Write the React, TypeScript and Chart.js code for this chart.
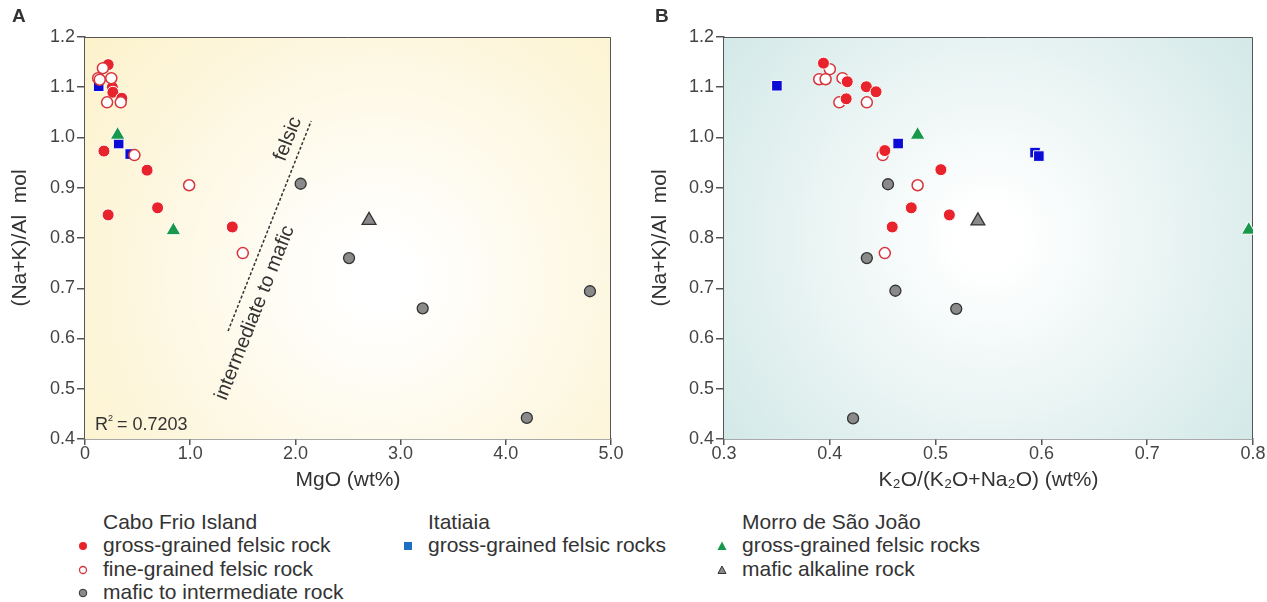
import React, { useEffect, useRef } from "react";
import { Chart, registerables } from "chart.js";
Chart.register(...registerables);

type P = { x: number; y: number };

// ---------- Panel A : MgO vs (Na+K)/Al ----------
const aRedFilled: P[] = [
  { x: 0.22, y: 1.145 }, { x: 0.26, y: 1.1 }, { x: 0.265, y: 1.09 }, { x: 0.35, y: 1.078 },
  { x: 0.18, y: 0.973 }, { x: 0.22, y: 0.846 }, { x: 0.59, y: 0.935 }, { x: 0.69, y: 0.86 },
  { x: 1.4, y: 0.822 },
];
const aRedOpen: P[] = [
  { x: 0.125, y: 1.118 }, { x: 0.14, y: 1.115 }, { x: 0.17, y: 1.138 }, { x: 0.25, y: 1.118 },
  { x: 0.21, y: 1.07 }, { x: 0.34, y: 1.07 }, { x: 0.47, y: 0.965 }, { x: 0.99, y: 0.905 },
  { x: 1.5, y: 0.77 },
];
const aGrey: P[] = [
  { x: 2.05, y: 0.908 }, { x: 2.51, y: 0.76 }, { x: 3.21, y: 0.66 }, { x: 4.2, y: 0.442 },
  { x: 4.8, y: 0.694 },
];
const aBlue: P[] = [{ x: 0.13, y: 1.102 }, { x: 0.32, y: 0.988 }, { x: 0.43, y: 0.967 }];
const aGreen: P[] = [{ x: 0.31, y: 1.005 }, { x: 0.84, y: 0.815 }];
const aGreyTri: P[] = [{ x: 2.7, y: 0.835 }];
const aDivider: P[] = [{ x: 1.36, y: 0.615 }, { x: 2.15, y: 1.033 }];
const aLabelFelsic: P = { x: 1.93, y: 0.997 };
const aLabelMafic: P = { x: 1.616, y: 0.651 };
const aXTicks = [0, 1, 2, 3, 4, 5];

// ---------- Panel B : K2O/(K2O+Na2O) vs (Na+K)/Al ----------
const bRedFilled: P[] = [
  { x: 0.394, y: 1.148 }, { x: 0.4165, y: 1.111 }, { x: 0.4155, y: 1.077 }, { x: 0.4345, y: 1.101 },
  { x: 0.4437, y: 1.091 }, { x: 0.452, y: 0.974 }, { x: 0.505, y: 0.936 }, { x: 0.477, y: 0.86 },
  { x: 0.513, y: 0.846 }, { x: 0.459, y: 0.822 },
];
const bRedOpen: P[] = [
  { x: 0.4, y: 1.136 }, { x: 0.39, y: 1.116 }, { x: 0.396, y: 1.116 }, { x: 0.412, y: 1.118 },
  { x: 0.409, y: 1.07 }, { x: 0.435, y: 1.07 }, { x: 0.45, y: 0.965 }, { x: 0.483, y: 0.905 },
  { x: 0.452, y: 0.77 },
];
const bGrey: P[] = [
  { x: 0.455, y: 0.907 }, { x: 0.435, y: 0.76 }, { x: 0.462, y: 0.695 }, { x: 0.5195, y: 0.659 },
  { x: 0.422, y: 0.441 },
];
const bBlue: P[] = [
  { x: 0.35, y: 1.103 }, { x: 0.4646, y: 0.988 }, { x: 0.594, y: 0.97 }, { x: 0.5976, y: 0.963 },
];
const bGreen: P[] = [{ x: 0.483, y: 1.005 }, { x: 0.796, y: 0.816 }];
const bGreyTri: P[] = [{ x: 0.54, y: 0.834 }];

const yMin = 0.4;
const yMax = 1.2;

const FONT = "'Liberation Sans', Arial, Helvetica, sans-serif";
const RED = "#e8232b";
const RED_OPEN = "#d8343c";
const BLUE = "#0b0bd6";
const GREEN = "#17984a";
const GREY = "#8a8a8a";

function pointSets(red: P[], open: P[], grey: P[], blue: P[], green: P[], greyTri: P[], openOnTop: boolean) {
  const openDs = {
    data: open, pointStyle: "circle", pointRadius: 5.5, backgroundColor: "#ffffff",
    borderColor: RED_OPEN, pointBorderWidth: 1.5,
  };
  const redDs = {
    data: red, pointStyle: "circle", pointRadius: 6, backgroundColor: RED,
    borderColor: "#ffffff", pointBorderWidth: 1,
  };
  const list: any[] = [
    { data: green, pointStyle: "triangle", pointRadius: 8.5, backgroundColor: GREEN, borderColor: "#ffffff", pointBorderWidth: 1 },
    { data: greyTri, pointStyle: "triangle", pointRadius: 8, backgroundColor: GREY, borderColor: "#333333", pointBorderWidth: 1.3 },
  ];
  if (openOnTop) list.unshift(openDs);
  else list.unshift(redDs);
  list.push({ data: blue, pointStyle: "rect", pointRadius: 7.5, backgroundColor: BLUE, borderColor: "#ffffff", pointBorderWidth: 1 });
  if (openOnTop) list.push(redDs);
  else list.push(openDs);
  list.push({ data: grey, pointStyle: "circle", pointRadius: 5.5, backgroundColor: GREY, borderColor: "#333333", pointBorderWidth: 1.3 });
  return list;
}

function bgPlugin(id: string, inner: string, outer: string, cx: number, cy: number, rf: number) {
  return {
    id,
    beforeDatasetsDraw(chart: any) {
      const { ctx, chartArea: a } = chart;
      const x0 = a.left + cx * (a.right - a.left);
      const y0 = a.top + cy * (a.bottom - a.top);
      const r = Math.hypot(a.right - a.left, a.bottom - a.top) * rf;
      const g = ctx.createRadialGradient(x0, y0, 0, x0, y0, r);
      g.addColorStop(0, inner);
      g.addColorStop(0.08, inner);
      g.addColorStop(1, outer);
      ctx.save();
      ctx.fillStyle = g;
      ctx.fillRect(a.left, a.top, a.right - a.left, a.bottom - a.top);
      ctx.strokeStyle = "#555555";
      ctx.lineWidth = 1;
      ctx.beginPath();
      ctx.moveTo(a.left, a.top + 0.5);
      ctx.lineTo(a.right - 0.5, a.top + 0.5);
      ctx.lineTo(a.right - 0.5, a.bottom);
      ctx.stroke();
      ctx.restore();
    },
  };
}

const annotA = {
  id: "annotA",
  afterDatasetsDraw(chart: any) {
    const { ctx, scales } = chart;
    const xs = scales.x, ys = scales.y;
    const p0x = xs.getPixelForValue(aDivider[0].x), p0y = ys.getPixelForValue(aDivider[0].y);
    const p1x = xs.getPixelForValue(aDivider[1].x), p1y = ys.getPixelForValue(aDivider[1].y);
    const ang = Math.atan2(p1y - p0y, p1x - p0x);
    const put = (t: string, p: P) => {
      ctx.save();
      ctx.translate(xs.getPixelForValue(p.x), ys.getPixelForValue(p.y));
      ctx.rotate(ang);
      ctx.font = `20px ${FONT}`;
      ctx.fillStyle = "#333333";
      ctx.textAlign = "center";
      ctx.textBaseline = "middle";
      ctx.fillText(t, 0, 0);
      ctx.restore();
    };
    put("felsic", aLabelFelsic);
    put("intermediate to mafic", aLabelMafic);
    ctx.save();
    ctx.font = `18px ${FONT}`;
    ctx.fillStyle = "#333333";
    ctx.textBaseline = "alphabetic";
    ctx.textAlign = "left";
    ctx.fillText("R", 95, 430);
    const w = ctx.measureText("R").width;
    ctx.font = `9px ${FONT}`;
    ctx.fillText("2", 95 + w, 421);
    ctx.font = `18px ${FONT}`;
    ctx.fillText(" = 0.7203", 95 + w + 4, 430);
    ctx.restore();
  },
};

function baseOptions(xMin: number, xMax: number, xStep: number, xTitle: string, yWidth: number, padRight: number, xFmt: (v: number) => string) {
  return {
    animation: false,
    responsive: false,
    maintainAspectRatio: false,
    layout: { padding: { left: 0, right: padRight, top: 37, bottom: 0 } },
    plugins: { legend: { display: false }, tooltip: { enabled: false } },
    scales: {
      x: {
        type: "linear",
        min: xMin,
        max: xMax,
        afterFit: (s: any) => { s.height = 61; },
        ticks: { stepSize: xStep, callback: (v: any) => xFmt(Number(v)), font: { family: FONT, size: 18 }, color: "#444444", padding: -2, maxRotation: 0, autoSkip: false },
        grid: { drawOnChartArea: false, tickLength: 6, color: "#555555", lineWidth: 1.5 },
        border: { color: "#555555", width: 1.5 },
        title: { display: true, text: xTitle, font: { family: FONT, size: 21 }, color: "#333333", padding: { top: 0, bottom: 7 } },
      },
      y: {
        type: "linear",
        min: yMin,
        max: yMax,
        afterFit: (s: any) => { s.width = yWidth; },
        ticks: { stepSize: 0.1, callback: (v: any) => Number(v).toFixed(1), font: { family: FONT, size: 18 }, color: "#444444", padding: 2, autoSkip: false },
        grid: { drawOnChartArea: false, tickLength: 8, color: "#555555", lineWidth: 1.5 },
        border: { color: "#555555", width: 1.5 },
        title: { display: true, text: "(Na+K)/Al  mol", font: { family: FONT, size: 21 }, color: "#333333", padding: { top: 8, bottom: 0 } },
      },
    },
  } as any;
}

function PanelA() {
  const ref = useRef<HTMLCanvasElement>(null);
  useEffect(() => {
    const datasets = pointSets(aRedFilled, aRedOpen, aGrey, aBlue, aGreen, aGreyTri, true);
    datasets.push({
      data: aDivider, showLine: true, pointRadius: 0, borderColor: "#333333", borderWidth: 1.5,
      borderDash: [3, 2], fill: false,
    });
    const chart = new Chart(ref.current as HTMLCanvasElement, {
      type: "scatter",
      data: { datasets },
      options: baseOptions(aXTicks[0], aXTicks[aXTicks.length - 1], 1, "MgO (wt%)", 85, 29, (v) => (v === 0 ? "0" : v.toFixed(1))),
      plugins: [bgPlugin("bgA", "#ffffff", "#fcf1c8", 0.56, 0.6, 0.6), annotA],
    } as any);
    return () => chart.destroy();
  }, []);
  return <canvas ref={ref} width={640} height={500} style={{ position: "absolute", left: 0, top: 0, width: 640, height: 500 }} />;
}

function PanelB() {
  const ref = useRef<HTMLCanvasElement>(null);
  useEffect(() => {
    const datasets = pointSets(bRedFilled, bRedOpen, bGrey, bBlue, bGreen, bGreyTri, false);
    const chart = new Chart(ref.current as HTMLCanvasElement, {
      type: "scatter",
      data: { datasets },
      options: baseOptions(0.3, 0.8, 0.1, "K\u2082O/(K\u2082O+Na\u2082O) (wt%)", 84, 14, (v) => v.toFixed(1)),
      plugins: [bgPlugin("bgB", "#ffffff", "#cbe5e3", 0.5, 0.5, 0.58)],
    } as any);
    return () => chart.destroy();
  }, []);
  return <canvas ref={ref} width={627} height={500} style={{ position: "absolute", left: 640, top: 0, width: 627, height: 500 }} />;
}

function Marker({ kind }: { kind: string }) {
  const s = 12;
  let el: any = null;
  if (kind === "red") el = <circle cx={6} cy={6} r={4} fill={RED} />;
  if (kind === "open") el = <circle cx={6} cy={6} r={3.5} fill="#fff" stroke={RED_OPEN} strokeWidth={1.3} />;
  if (kind === "grey") el = <circle cx={6} cy={6} r={3.8} fill={GREY} stroke="#333" strokeWidth={1} />;
  if (kind === "blue") el = <rect x={2} y={2} width={8} height={8} fill="#1f6fc0" />;
  if (kind === "green") el = <polygon points="6,1.5 10.5,10 1.5,10" fill={GREEN} />;
  if (kind === "greytri") el = <polygon points="6,2 10,9.5 2,9.5" fill={GREY} stroke="#333" strokeWidth={1} />;
  return <svg width={s} height={s} style={{ position: "absolute", left: -26, top: 7 }}>{el}</svg>;
}

const textStyle: React.CSSProperties = {
  position: "absolute", fontFamily: FONT, fontSize: 21, lineHeight: "24px", color: "#333333", whiteSpace: "nowrap",
};

function Item({ x, y, text, kind }: { x: number; y: number; text: string; kind?: string }) {
  return (
    <div style={{ ...textStyle, left: x, top: y }}>
      {kind ? <Marker kind={kind} /> : null}
      {text}
    </div>
  );
}

export default function App() {
  return (
    <div style={{ position: "fixed", left: 0, top: 0, width: 1267, height: 602, background: "#ffffff", overflow: "hidden" }}>
      <PanelA />
      <PanelB />
      <div style={{ ...textStyle, left: 12, top: 4, fontWeight: "bold", fontSize: 19, color: "#333" }}>A</div>
      <div style={{ ...textStyle, left: 655, top: 4, fontWeight: "bold", fontSize: 19, color: "#333" }}>B</div>
      <Item x={103} y={510} text="Cabo Frio Island" />
      <Item x={103} y={533} text="gross-grained felsic rock" kind="red" />
      <Item x={103} y={557} text="fine-grained felsic rock" kind="open" />
      <Item x={103} y={580} text="mafic to intermediate rock" kind="grey" />
      <Item x={428} y={510} text="Itatiaia" />
      <Item x={428} y={533} text="gross-grained felsic rocks" kind="blue" />
      <Item x={742} y={510} text="Morro de São João" />
      <Item x={742} y={533} text="gross-grained felsic rocks" kind="green" />
      <Item x={742} y={557} text="mafic alkaline rock" kind="greytri" />
    </div>
  );
}
